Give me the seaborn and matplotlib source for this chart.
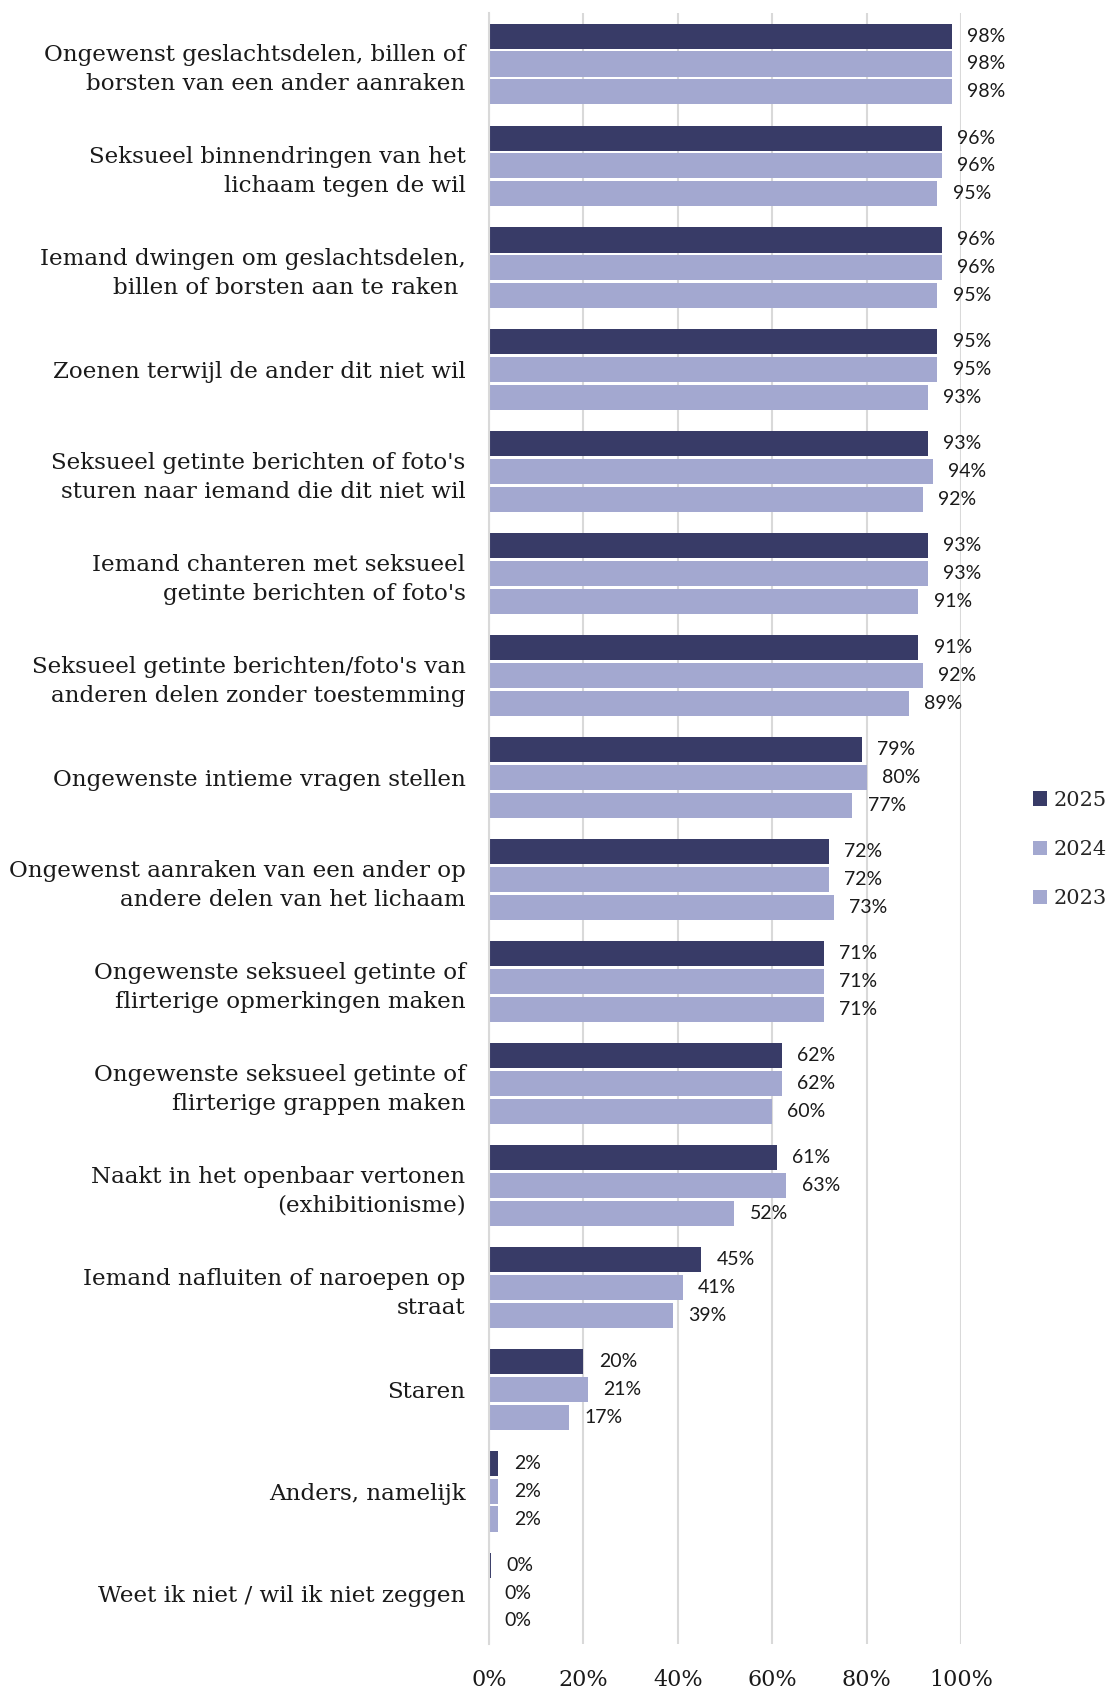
import matplotlib
matplotlib.use("Agg")
import matplotlib.pyplot as plt
import pandas as pd
import seaborn as sns

CATEGORIES = [
    "Ongewenst geslachtsdelen, billen of\nborsten van een ander aanraken",
    "Seksueel binnendringen van het\nlichaam tegen de wil",
    "Iemand dwingen om geslachtsdelen,\nbillen of borsten aan te raken ",
    "Zoenen terwijl de ander dit niet wil",
    "Seksueel getinte berichten of foto's\nsturen naar iemand die dit niet wil",
    "Iemand chanteren met seksueel\ngetinte berichten of foto's",
    "Seksueel getinte berichten/foto's van\nanderen delen zonder toestemming",
    "Ongewenste intieme vragen stellen",
    "Ongewenst aanraken van een ander op\nandere delen van het lichaam",
    "Ongewenste seksueel getinte of\nflirterige opmerkingen maken",
    "Ongewenste seksueel getinte of\nflirterige grappen maken",
    "Naakt in het openbaar vertonen\n(exhibitionisme)",
    "Iemand nafluiten of naroepen op\nstraat",
    "Staren",
    "Anders, namelijk",
    "Weet ik niet / wil ik niet zeggen",
]

YEARS = ["2025", "2024", "2023"]
VALUES_2025 = [98, 96, 96, 95, 93, 93, 91, 79, 72, 71, 62, 61, 45, 20, 2, 0.4]
VALUES_2024 = [98, 96, 96, 95, 94, 93, 92, 80, 72, 71, 62, 63, 41, 21, 2, 0.1]
VALUES_2023 = [98, 95, 95, 93, 92, 91, 89, 77, 73, 71, 60, 52, 39, 17, 2, 0.1]

X_TICKS = [0, 20, 40, 60, 80, 100]

DARK = "#383b67"
LIGHT = "#a3a8d0"
GRID = "#d9d9d9"
SERIF = "DejaVu Serif"


def build_frame() -> pd.DataFrame:
    rows = []
    for year, values in zip(YEARS, [VALUES_2025, VALUES_2024, VALUES_2023]):
        for cat, val in zip(CATEGORIES, values):
            rows.append({"category": cat, "year": year, "value": val})
    return pd.DataFrame(rows)


def main() -> None:
    sns.set_theme(style="white")
    df = build_frame()

    fig = plt.figure(figsize=(11.17, 16.89), dpi=100)
    ax = fig.add_axes([0.4378, 0.0266, 0.4225, 0.9657])

    sns.barplot(
        data=df, y="category", x="value", hue="year",
        hue_order=YEARS, order=CATEGORIES,
        palette=[DARK, LIGHT, LIGHT], width=0.82, gap=0.1,
        saturation=1, linewidth=0, ax=ax,
    )

    for container, values in zip(ax.containers, [VALUES_2025, VALUES_2024, VALUES_2023]):
        ax.bar_label(
            container, labels=[f"{v:.0f}%" for v in values], padding=11,
            fontsize=14, fontfamily="Lato", color="#1a1a1a",
        )

    ax.set_xlim(0, 100)
    ax.set_xticks(X_TICKS)
    ax.set_xticklabels([f"{t}%" for t in X_TICKS], fontsize=16, fontfamily=SERIF)
    ax.set_xlabel("")
    ax.set_ylabel("")
    ax.xaxis.grid(True, color=GRID, linewidth=1.5)
    ax.set_axisbelow(True)
    ax.tick_params(axis="x", length=0, pad=18, colors="#1a1a1a")
    ax.tick_params(axis="y", length=0, pad=17, colors="#1a1a1a")
    for lab in ax.get_yticklabels():
        lab.set_fontfamily(SERIF)
        lab.set_fontsize(16.6)
        lab.set_linespacing(1.4)
    for side in ["top", "right", "bottom"]:
        ax.spines[side].set_visible(False)
    ax.spines["left"].set_color(GRID)
    ax.spines["left"].set_linewidth(1.5)

    sns.move_legend(
        ax, loc="center left", bbox_to_anchor=(1.13, 0.487),
        title=None, frameon=False, handlelength=0.7, handleheight=0.7,
        handletextpad=0.3, labelspacing=1.45, borderpad=0,
        prop={"family": SERIF, "size": 15},
    )

    fig.savefig("out.png", dpi=100)
    plt.close(fig)


if __name__ == "__main__":
    main()
